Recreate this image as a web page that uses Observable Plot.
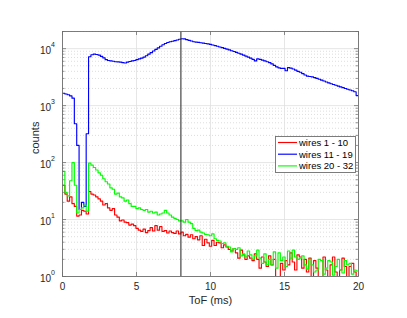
<!DOCTYPE html>
<html>
<head>
<meta charset="utf-8">
<script src="https://cdn.jsdelivr.net/npm/d3@7"></script>
<script src="https://cdn.jsdelivr.net/npm/@observablehq/plot@0.6"></script>
<style>
  html, body { margin: 0; padding: 0; background: #fff; }
  #chart { position: relative; width: 407px; height: 318px; font-family: "Liberation Sans", Arial, sans-serif; }
  #legend { position: absolute; left: 0; top: 0; }
</style>
</head>
<body>
<div id="chart"></div>
<script>
// ---- data (bin width 0.16 ms, bins start at 0 ms) ----
const binWidth = 0.16;
const seriesNames = ["wires 1 - 10", "wires 11 - 19", "wires 20 - 32"];
const seriesColors = ["#ff0000", "#0000ff", "#00ff00"];

const wires1_10 = [
  40, 28, 21, 25, 19, 17, 11.5, 12, 14.5, 14,
  12.5, 31, 28, 27, 25, 23, 21, 18, 19, 16,
  14.5, 15.5, 12, 11, 9.5, 9.8, 9, 8.8, 8, 8.3,
  7.8, 7, 6.5, 6.2, 6.8, 5.9, 6.4, 7.2, 6.3, 7.8,
  6.5, 7.5, 6.2, 6.4, 5.8, 6.3, 5.9, 5.7, 6.3, 5.6,
  6.0, 5.2, 5.5, 4.9, 5.4, 4.6, 5.0, 4.4, 5.2, 3.5,
  4.5, 3.9, 3.4, 4.3, 3.5, 4.0, 3.9, 3.2, 3.6, 3.3,
  3.0, 2.8, 3.1, 2.6, 2.1, 2.9, 2.4, 2.0, 2.3, 2.1,
  1.9, 2.5, 2.0, 1.4, 2.2, 1.8, 1.5, 2.3, 1.6, 2.0,
  1.0, 1.0, 1.7, 1.3, 1.9, 1.6, 2.6, 1.8, 1.3, 2.4,
  2.2, 1.4, 2.0, 1.2, 2.1, 1.0, 1.9, 1.4, 1.0, 1.0,
  2.2, 1.3, 1.0, 1.6, 2.2, 1.2, 1.0, 1.3, 2.1, 1.5,
  1.0, 1.5, 1.7, 1.2, 1.0
];

const wires11_19 = [
  1650, 1600, 1550, 1480, 1350, 480, 200, 15, 20, 17,
  320, 7200, 7800, 8000, 7900, 7700, 7300, 6900, 6400, 6200,
  6100, 6000, 5900, 5850, 5800, 5700, 5600, 5800, 5950, 6100,
  6200, 6400, 6600, 6800, 7100, 7500, 8000, 8500, 9100, 9700,
  10300, 11000, 11700, 12300, 12800, 13200, 13500, 13800, 14200, 14600,
  14900, 14800, 14400, 14000, 13600, 13200, 13000, 12900, 12700, 12500,
  12300, 12100, 11900, 11600, 11300, 11000, 10700, 10400, 10100, 9800,
  9500, 9200, 8900, 8600, 8300, 8000, 7700, 7400, 7100, 6800,
  6500, 6100, 6600, 6500, 6300, 6100, 5900, 5700, 5400, 5100,
  4800, 4600, 4500, 4500, 4100, 4650, 4550, 4400, 4200, 4000,
  3850, 3650, 3450, 3300, 3250, 3200, 3100, 3000, 2900, 2800,
  2700, 2600, 2500, 2420, 2350, 2280, 2200, 2130, 2070, 2000,
  1940, 1880, 1820, 1750, 1500
];

const wires20_32 = [
  70, 30, 26, 48, 100, 40, 13, 15, 16, 18,
  14, 98, 90, 82, 74, 66, 60, 52, 46, 42,
  36, 34, 28, 29, 25, 24, 21, 22, 19, 17,
  17, 15.5, 16, 15, 14.5, 15, 13.5, 14, 13, 13.5,
  12, 12.5, 13, 14.5, 13, 12, 11, 10.5, 10, 9.5,
  9.5, 9, 10, 9, 8.5, 7, 6.4, 6.5, 6, 5.8,
  5.5, 5.4, 5.2, 5.6, 4.6, 4.3, 4.2, 3.8, 3.9, 3.4,
  3.3, 2.7, 3.1, 3.0, 3.2, 2.3, 2.5, 2.2, 2.8, 2.4,
  2.0, 2.3, 2.9, 2.1, 1.7, 2.5, 1.6, 2.0, 1.6, 2.7,
  1.4, 2.6, 1.9, 2.2, 1.5, 2.8, 2.1, 2.9, 2.2, 2.0,
  2.1, 2.3, 1.6, 1.35, 2.0, 1.6, 1.2, 1.3, 2.0, 1.9,
  1.1, 1.4, 1.9, 1.8, 1.05, 1.5, 2.0, 1.3, 1.15, 1.9,
  1.6, 1.7, 1.1, 1.3, 1.25
];

const markerTime = [8];
const xTicks = [0, 5, 10, 15, 20];
const yTicks = [1, 10, 100, 1000, 10000];
const yExponents = ["0", "1", "2", "3", "4"];
const yMinorMultipliers = [2, 3, 4, 5, 6, 7, 8, 9];
const xLabel = "ToF (ms)";
const yLabel = "counts";

// ---- helpers ----
function steps(values) {
  const pts = values.map((v, i) => ({t: i * binWidth, v}));
  pts.push({t: values.length * binWidth, v: values[values.length - 1]});
  return pts;
}
const yMinor = [];
for (const d of yTicks) for (const m of yMinorMultipliers) if (d * m <= 20000) yMinor.push(d * m);

const W = 407, H = 318;
const mL = 62, mR = 49, mT = 31, mB = 42;
const pw = W - mL - mR, ph = H - mT - mB;
const axisColor = "#6f6f6f";
const txtColor = "#262626";
const lw = 1.15;

const plot = Plot.plot({
  width: W, height: H,
  marginLeft: mL, marginRight: mR, marginTop: mT, marginBottom: mB,
  style: {background: "#fff", fontFamily: "Liberation Sans, Arial, sans-serif"},
  x: {domain: [0, 20], axis: null},
  y: {type: "log", domain: [1, 20000], axis: null},
  marks: [
    // minor dotted grid
    Plot.ruleY(yMinor, {y: d => d, stroke: "#cfcfcf", strokeWidth: 0.7, strokeDasharray: "1,2"}),
    // major grid
    Plot.ruleY(yTicks, {y: d => d, stroke: "#e0e0e0", strokeWidth: 0.8}),
    Plot.ruleX(xTicks, {x: d => d, stroke: "#e0e0e0", strokeWidth: 0.8}),
    // series
    Plot.line(steps(wires1_10), {x: "t", y: "v", curve: "step-after", stroke: seriesColors[0], strokeWidth: lw, clip: true}),
    Plot.line(steps(wires11_19), {x: "t", y: "v", curve: "step-after", stroke: seriesColors[1], strokeWidth: lw, clip: true}),
    Plot.line(steps(wires20_32), {x: "t", y: "v", curve: "step-after", stroke: seriesColors[2], strokeWidth: lw, clip: true}),
    // vertical marker
    Plot.ruleX(markerTime, {x: d => d, stroke: "#333", strokeWidth: 1.1}),
    // frame
    Plot.frame({stroke: axisColor, strokeWidth: 0.9}),
    // inward ticks x (bottom and top)
    Plot.tickX(xTicks, {x: d => d, insetTop: ph - 4, stroke: axisColor, strokeWidth: 0.8}),
    Plot.tickX(xTicks, {x: d => d, insetBottom: ph - 4, stroke: axisColor, strokeWidth: 0.8}),
    // inward ticks y (left and right) major & minor
    Plot.tickY(yTicks, {y: d => d, insetRight: pw - 4, stroke: axisColor, strokeWidth: 0.8}),
    Plot.tickY(yTicks, {y: d => d, insetLeft: pw - 4, stroke: axisColor, strokeWidth: 0.8}),
    Plot.tickY(yMinor, {y: d => d, insetRight: pw - 2.5, stroke: axisColor, strokeWidth: 0.7}),
    Plot.tickY(yMinor, {y: d => d, insetLeft: pw - 2.5, stroke: axisColor, strokeWidth: 0.7}),
    // x tick labels
    Plot.text(xTicks, {x: d => d, frameAnchor: "bottom", dy: 10, text: d => String(d), fontSize: 10, fill: txtColor, lineAnchor: "middle"}),
    // y tick labels: 10 with superscript exponent
    Plot.text(yTicks, {y: d => d, frameAnchor: "left", dx: -11.5, dy: 2, text: () => "10", textAnchor: "end", fontSize: 10, fill: txtColor, lineAnchor: "middle"}),
    Plot.text(yTicks, {y: d => d, frameAnchor: "left", dx: -11.5, dy: -4, text: (d, i) => yExponents[i], textAnchor: "start", fontSize: 7, fill: txtColor, lineAnchor: "middle"}),
    // axis labels
    Plot.text([xLabel], {frameAnchor: "bottom", dy: 24, text: d => d, fontSize: 11, fill: txtColor, lineAnchor: "middle"}),
    Plot.text([yLabel], {frameAnchor: "left", dx: -27, rotate: -90, text: d => d, fontSize: 11, fill: txtColor, lineAnchor: "middle"})
  ]
});

const chart = document.getElementById("chart");
chart.appendChild(plot);

// ---- legend (overlay) ----
const lg = d3.select(chart).append("svg")
  .attr("id", "legend").attr("width", W).attr("height", H);
const lx = 275, ly = 136, lwid = 80, lh = 36;
lg.append("rect").attr("x", lx + 0.5).attr("y", ly + 0.5).attr("width", lwid).attr("height", lh)
  .attr("fill", "#fff").attr("stroke", axisColor).attr("stroke-width", 0.9);
seriesNames.forEach((name, i) => {
  const yy = ly + 6.5 + i * 11.7;
  lg.append("line").attr("x1", lx + 3).attr("x2", lx + 22).attr("y1", yy).attr("y2", yy)
    .attr("stroke", seriesColors[i]).attr("stroke-width", lw);
  lg.append("text").attr("x", lx + 24).attr("y", yy).attr("dy", "0.35em")
    .attr("font-family", "Liberation Sans, Arial, sans-serif").attr("font-size", 9.5)
    .attr("fill", "#000").text(name);
});
</script>
</body>
</html>
